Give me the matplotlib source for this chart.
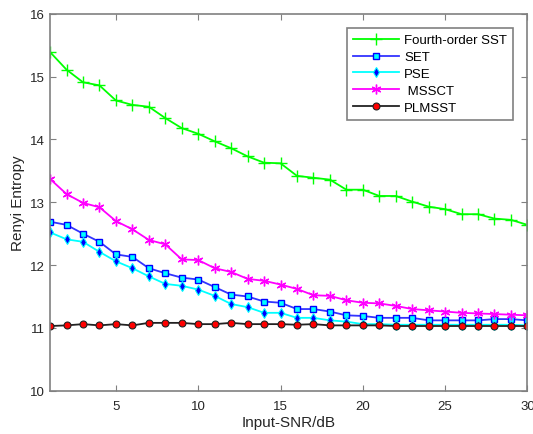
import matplotlib
matplotlib.use('Agg')
import matplotlib.pyplot as plt

plt.rcParams['font.family'] = ['Liberation Sans', 'DejaVu Sans']

snr = list(range(1, 31))

sst4 = [15.39, 15.11, 14.91, 14.86, 14.62, 14.55, 14.52, 14.34, 14.18, 14.09,
        13.97, 13.86, 13.73, 13.63, 13.62, 13.42, 13.39, 13.36, 13.20, 13.20,
        13.10, 13.10, 13.01, 12.93, 12.89, 12.81, 12.81, 12.74, 12.72, 12.64]
set_ = [12.69, 12.64, 12.50, 12.37, 12.17, 12.13, 11.95, 11.87, 11.80, 11.77,
        11.65, 11.53, 11.50, 11.42, 11.40, 11.30, 11.30, 11.26, 11.20, 11.19,
        11.16, 11.16, 11.16, 11.12, 11.12, 11.12, 11.12, 11.14, 11.14, 11.12]
pse = [12.52, 12.41, 12.37, 12.21, 12.06, 11.95, 11.82, 11.70, 11.67, 11.61,
       11.51, 11.38, 11.33, 11.24, 11.24, 11.16, 11.16, 11.12, 11.10, 11.06,
       11.06, 11.05, 11.05, 11.05, 11.05, 11.05, 11.05, 11.05, 11.05, 11.04]
mssct = [13.37, 13.13, 12.99, 12.92, 12.70, 12.57, 12.40, 12.33, 12.09, 12.08,
         11.95, 11.89, 11.78, 11.75, 11.69, 11.62, 11.52, 11.51, 11.44, 11.40,
         11.39, 11.35, 11.30, 11.28, 11.26, 11.24, 11.23, 11.22, 11.21, 11.20]
plmsst = [11.03, 11.04, 11.06, 11.04, 11.06, 11.04, 11.08, 11.08, 11.08, 11.06,
          11.06, 11.08, 11.06, 11.06, 11.06, 11.05, 11.06, 11.04, 11.04, 11.04,
          11.04, 11.03, 11.03, 11.03, 11.03, 11.03, 11.03, 11.03, 11.03, 11.03]

fig = plt.figure(figsize=(5.33, 4.35), dpi=100)
ax = fig.add_axes([0.094, 0.0995, 0.8955, 0.8665])

lw = 1.3
ax.plot(snr, sst4, color='#00ff00', lw=lw, marker='+', ms=8, mew=1.0,
        label='Fourth-order SST')
ax.plot(snr, set_, color='#3333ff', lw=lw, marker='s', ms=5, mfc='#00ffff',
        mec='#0000ff', mew=1.0, label='SET')
ax.plot(snr, pse, color='#00ffff', lw=lw, marker='d', ms=5, mfc='#0000ff',
        mec='#00ffff', mew=0.8, label='PSE')
ax.plot(snr, mssct, color='#ff00ff', lw=lw, marker=(6, 2, 0), ms=7, mew=1.0,
        label=' MSSCT')
ax.plot(snr, plmsst, color='#222222', lw=lw, marker='o', ms=5, mfc='#ff0000',
        mec='#222222', mew=0.8, label='PLMSST')

ax.set_xlim(1, 30)
ax.set_ylim(10, 16)
ax.set_xticks([5, 10, 15, 20, 25, 30])
ax.set_yticks([10, 11, 12, 13, 14, 15, 16])

for s in ax.spines.values():
    s.set_color('#808080')
    s.set_linewidth(1.2)
ax.tick_params(direction='in', length=4, color='#808080', labelsize=9.5,
               labelcolor='#262626', top=True, right=True)
ax.tick_params(axis='x', pad=7)

ax.set_xlabel('Input-SNR/dB', fontsize=11, color='#262626', labelpad=2)
ax.set_ylabel('Renyi Entropy', fontsize=11, color='#262626', labelpad=4)

leg = ax.legend(loc='upper right', fontsize=9.5, fancybox=False,
                framealpha=1, edgecolor='#808080', borderpad=0.45,
                labelspacing=0.35, handlelength=3.5, handletextpad=0.4,
                borderaxespad=0, bbox_to_anchor=(0.97, 0.962))
leg.get_frame().set_linewidth(1.2)

fig.savefig('out.png', dpi=100)
